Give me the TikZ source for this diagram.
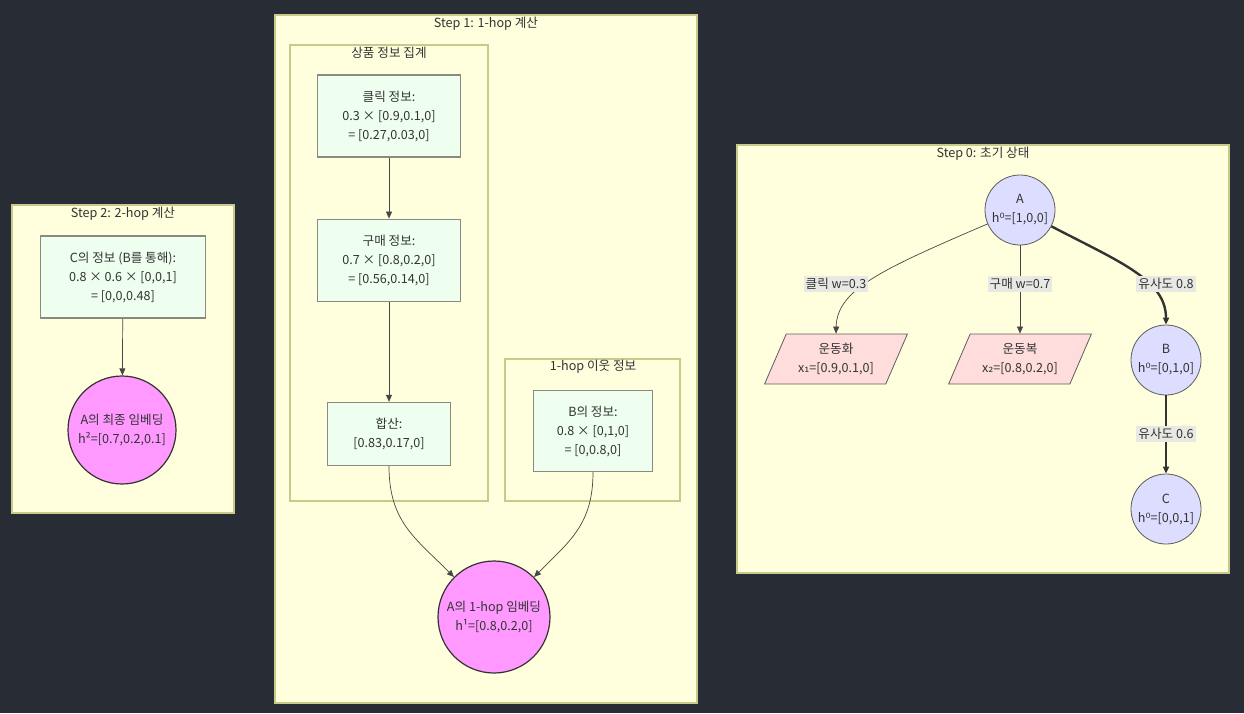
\documentclass[tikz,border=0pt]{standalone}
\usepackage{fontspec}
\setmainfont{Noto Sans CJK KR}
\newfontfamily\symfont{DejaVu Sans}
\usetikzlibrary{arrows.meta,positioning,shapes.geometric}
\definecolor{Canvas}{HTML}{282C34}
\definecolor{ClusterFill}{HTML}{FFFFDE}
\definecolor{ClusterLine}{HTML}{C9C98A}
\definecolor{BoxFill}{HTML}{EEFFF0}
\definecolor{BoxLine}{HTML}{8A8A80}
\definecolor{Embed}{HTML}{FF99FF}
\definecolor{State}{HTML}{DDDDFF}
\definecolor{Item}{HTML}{FFDDDD}
\definecolor{Ink}{HTML}{333333}
\definecolor{LabelFill}{HTML}{E9E9E4}
\newcommand{\hz}{h{\symfont ⁰}}

\begin{document}
\begin{tikzpicture}[x=1pt,y=-1pt,
  font=\fontsize{12.6}{19}\selectfont,
  cluster/.style={draw=ClusterLine,fill=ClusterFill,line width=1.2pt},
  ctitle/.style={anchor=north,text=Ink,inner sep=0pt},
  calcbox/.style={draw=BoxLine,fill=BoxFill,line width=1.2pt,align=center,text=Ink,minimum width=143pt,minimum height=82pt},
  embed/.style={circle,draw=Ink,fill=Embed,line width=1.2pt,align=center,text=Ink,minimum size=#1,inner sep=0pt},
  state/.style={circle,draw=Ink!80,fill=State,line width=0.8pt,align=center,text=Ink,minimum size=70pt,inner sep=0pt},
  itembox/.style={trapezium,trapezium left angle=65,trapezium right angle=115,trapezium stretches=true,draw=Ink!80,fill=Item,line width=0.8pt,align=center,text=Ink,minimum width=143pt,minimum height=50pt},
  elabel/.style={fill=LabelFill,inner sep=2pt,text=Ink},
  flow/.style={-{Triangle[length=7pt,width=6pt]},draw=Ink!90,line width=0.7pt},
  strong/.style={-{Triangle[length=7pt,width=6pt]},draw=Ink,line width=2.4pt}
]
\useasboundingbox (0,0) rectangle (1244,713);
\fill[Canvas] (0,0) rectangle (1244,713);

% Step 2
\draw[cluster] (12,205) rectangle (234,513);
\node[ctitle] (t2) at (123,207) {Step 2: 2-hop 계산};
\node[calcbox,minimum width=165pt] (cinfo) at (123,277) {C의 정보 (B를 통해):\\0.8 × 0.6 × [0,0,1]\\= [0,0,0.48]};
\node[embed=108pt] (final) at (122,430) {A의 최종 임베딩\\h²=[0.7,0.2,0.1]};
\draw[flow] (cinfo) -- (final);

% Step 1
\draw[cluster] (275,15) rectangle (697,703);
\node[ctitle] (t1) at (486,17) {Step 1: 1-hop 계산};
\draw[cluster] (290,45) rectangle (488,501);
\node[ctitle] (tagg) at (389,47) {상품 정보 집계};
\draw[cluster] (505,359) rectangle (680,501);
\node[ctitle] (tnb) at (593,360) {1-hop 이웃 정보};
\node[calcbox] (click) at (389,116) {클릭 정보:\\0.3 × [0.9,0.1,0]\\= [0.27,0.03,0]};
\node[calcbox,below=61pt of click] (buy) {구매 정보:\\0.7 × [0.8,0.2,0]\\= [0.56,0.14,0]};
\node[calcbox,minimum width=123pt,minimum height=63pt,below=100pt of buy] (sum) {합산:\\{[0.83,0.17,0]}};
\node[calcbox,minimum width=119pt,minimum height=81pt] (binfo) at (593,431) {B의 정보:\\0.8 × [0,1,0]\\= [0,0.8,0]};
\node[embed=112pt] (hop1) at (494,617) {A의 1-hop 임베딩\\h¹=[0.8,0.2,0]};
\draw[flow] (click) -- (buy);
\draw[flow] (buy) -- (sum);
\draw[flow] (sum.south) to[out=-90,in=135,looseness=1.1] (hop1);
\draw[flow] (binfo.south) to[out=-90,in=45,looseness=1.1] (hop1);

% Step 0
\draw[cluster] (737,145) rectangle (1229,573);
\node[ctitle] (t0) at (983,147) {Step 0: 초기 상태};
\node[state] (A) at (1020,210) {A\\\hz=[1,0,0]};
\node[itembox] (shoe) at (836,359) {운동화\\x{\symfont ₁}=[0.9,0.1,0]};
\node[itembox] (wear) at (1020,359) {운동복\\x{\symfont ₂}=[0.8,0.2,0]};
\node[state] (B) at (1166,360) {B\\\hz=[0,1,0]};
\node[state] (C) at (1166,509) {C\\\hz=[0,0,1]};
\draw[flow] (A) .. controls (880,270) and (837,290) .. (shoe.north);
\draw[flow] (A) -- (wear);
\draw[strong] (A) .. controls (1120,262) and (1166,280) .. (B.north);
\draw[strong] (B) -- (C);
\node[elabel] (lclick) at (836,284) {클릭 w=0.3};
\node[elabel] (lbuy) at (1020,284) {구매 w=0.7};
\node[elabel] (lsimb) at (1166,284) {유사도 0.8};
\node[elabel] (lsimc) at (1166,434) {유사도 0.6};
\end{tikzpicture}
\end{document}
